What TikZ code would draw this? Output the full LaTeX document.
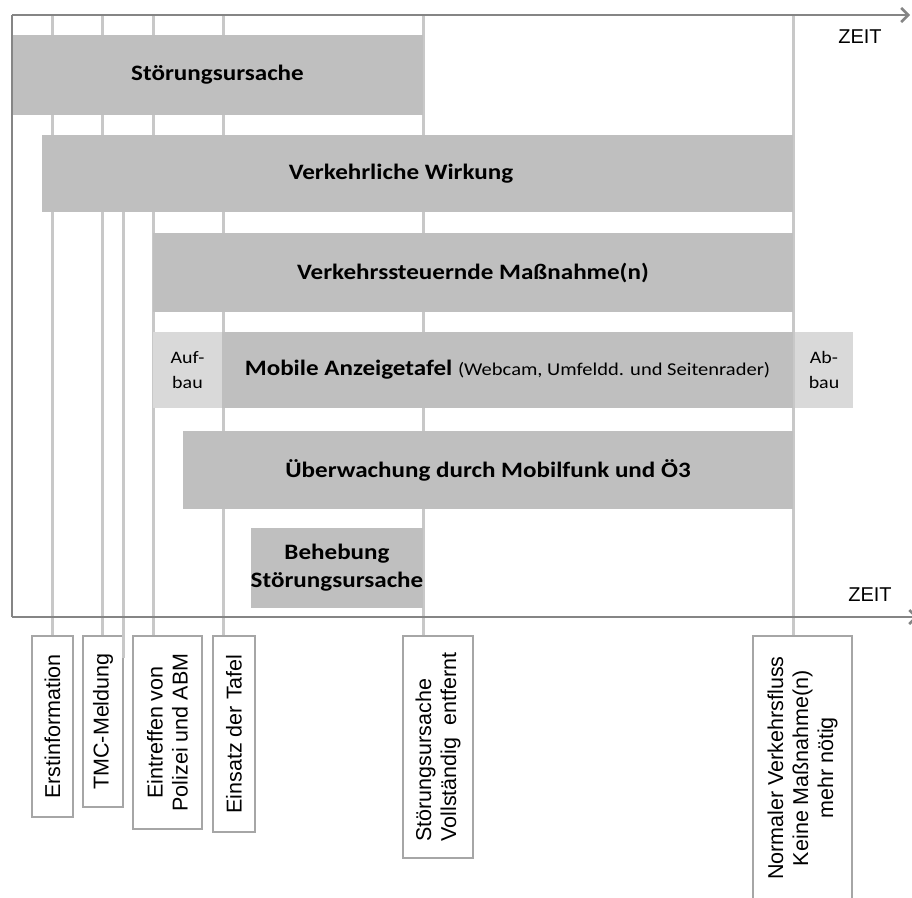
\documentclass[tikz,border=0pt]{standalone}
\usepackage{fontspec}
\setmainfont{Liberation Sans}
\newfontfamily\barfont[FakeStretch=1.14]{Carlito}
\usetikzlibrary{arrows.meta, positioning}
\definecolor{bargray}{HTML}{BFBFBF}
\definecolor{buildgray}{HTML}{D9D9D9}
\definecolor{guidegray}{HTML}{C8C8C8}
\definecolor{axisgray}{HTML}{858585}
\definecolor{boxgray}{HTML}{A6A6A6}
\tikzset{
    bar/.style={fill=bargray, inner sep=0pt, align=center,
        font=\barfont\bfseries\fontsize{22}{28}\selectfont},
    buildbar/.style={fill=buildgray, inner sep=0pt, align=center,
        font=\barfont\fontsize{17.5}{25}\selectfont},
    guide/.style={draw=guidegray, line width=3pt},
    axis/.style={draw=axisgray, line width=2.5pt},
    event/.style={draw=boxgray, line width=2.5pt, fill=white, rotate=90,
        inner sep=0pt, align=center, font=\fontsize{21.5}{25}\selectfont},
    timelabel/.style={font=\fontsize{20}{24}\selectfont}
}
\begin{document}
\begin{tikzpicture}[x=1pt, y=-1pt]
    \useasboundingbox (0,0) rectangle (912,897);

    % events below the time axis
    \node[event, minimum width=181pt, minimum height=41pt] (ev1) at (52.5,726.5) {Erstinformation};
    \node[event, minimum width=171pt, minimum height=40pt] (ev2) at (103,721.5) {TMC-Meldung};
    \node[event, minimum width=193pt, minimum height=69pt] (ev3) at (167.5,732.5) {Eintreffen von\\Polizei und ABM};
    \node[event, minimum width=196pt, minimum height=42pt] (ev4) at (234,734) {Einsatz der Tafel};
    \node[event, minimum width=222pt, minimum height=70pt, align=left] (ev5) at (438,747) {St\"orungsursache\\Vollst\"andig\ \ entfernt};
    \node[event, minimum width=264pt, minimum height=99pt] (ev6) at (802.5,768) {Normaler Verkehrsfluss\\Keine Ma\ss nahme(n)\\mehr n\"otig};

    % guide lines
    \coordinate (g1) at (52,15);
    \coordinate (g2) at (102,15);
    \coordinate (g3) at (153,15);
    \coordinate (g4) at (223,15);
    \coordinate (g5) at (423,15);
    \coordinate (g6) at (793,15);
    \coordinate (gxa) at (123,212);
    \coordinate (gxb) at (123,658);
    \draw[guide] (g1) -- (g1 |- ev1.east);
    \draw[guide] (g2) -- (g2 |- ev2.east);
    \draw[guide] (g3) -- (g3 |- ev3.east);
    \draw[guide] (g4) -- (g4 |- ev4.east);
    \draw[guide] (g5) -- (g5 |- ev5.east);
    \draw[guide] (g6) -- (g6 |- ev6.east);
    \draw[guide] (gxa) -- (gxb);

    % bars
    \node[bar, minimum width=411pt, minimum height=80pt] (b1) at (217.5,75) {St\"orungsursache};
    \node[bar, minimum width=751pt, minimum height=77pt] (b2) at (417.5,173.5) {Verkehrliche Wirkung\hspace*{33pt}};
    \node[bar, minimum width=640pt, minimum height=79pt] (b3) at (473,272.5) {Verkehrssteuernde Ma\ss nahme(n)};
    \node[buildbar, minimum width=69pt, minimum height=76pt] (up) at (187.5,370) {Auf-\\bau};
    \node[bar, minimum width=571pt, minimum height=76pt] (b4) at (507.5,370) {Mobile Anzeigetafel {\mdseries\fontsize{18}{20}\selectfont(Webcam, Umfeldd. und Seitenrader)}};
    \node[buildbar, minimum width=58pt, minimum height=76pt] (down) at (824,370) {Ab-\\bau};
    \node[bar, minimum width=610pt, minimum height=78pt] (b5) at (488,470) {\"Uberwachung durch Mobilfunk und \"O3};
    \node[bar, minimum width=172pt, minimum height=80pt] (b6) at (337,568) {Behebung\\St\"orungsursache};

    % axes
    \coordinate (o) at (12,15);
    \coordinate (ob) at (12,617);
    \coordinate (tend) at (910,15);
    \coordinate (bend) at (918,617);
    \draw[axis, -{Straight Barb[length=7pt, width=14pt]}] (o) -- (tend);
    \draw[axis] (o) -- (ob);
    \draw[axis, -{Straight Barb[length=7pt, width=14pt]}] (ob) -- (bend);
    \node[timelabel] (zeit1) at (860,37) {ZEIT};
    \node[timelabel] (zeit2) at (870,595) {ZEIT};
\end{tikzpicture}
\end{document}
